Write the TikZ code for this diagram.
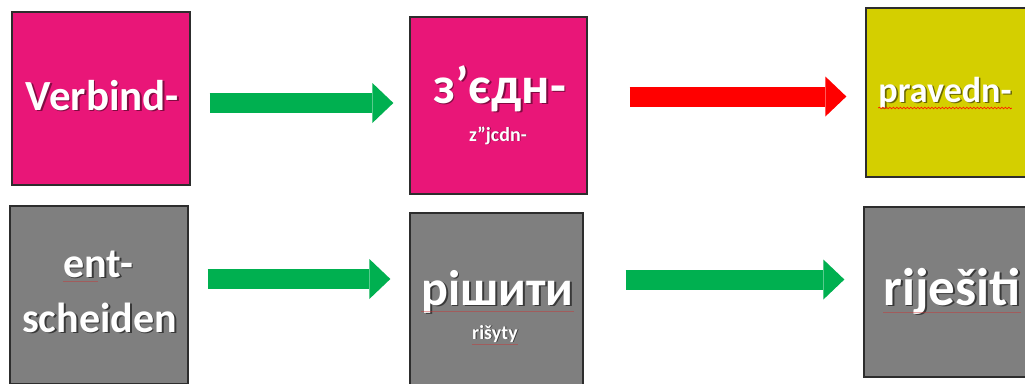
\documentclass[tikz,border=0pt]{standalone}
\usepackage{fontspec}
\setmainfont{Carlito}
\usetikzlibrary{arrows.meta,calc,decorations.pathmorphing}
\definecolor{pinkbox}{RGB}{233,22,120}
\definecolor{graybox}{RGB}{127,127,127}
\definecolor{yellowbox}{RGB}{212,207,0}
\definecolor{greenarrow}{RGB}{0,176,80}
\definecolor{redarrow}{RGB}{255,0,0}
\definecolor{boxline}{RGB}{45,45,45}
\newcommand{\shtxt}[3]{\makebox[0pt][l]{\kern#3\raisebox{-#3}{\color{#1}#2}}#2}
\tikzset{
  boxbase/.style={draw=boxline, line width=1.3pt, inner sep=0pt},
  pbox/.style={boxbase, fill=pinkbox},
  gbox/.style={boxbase, fill=graybox},
  ybox/.style={boxbase, fill=yellowbox},
  lbl/.style={text=white, font=\bfseries, inner sep=0pt, anchor=base},
  blockarrow/.style={line width=20pt, line cap=butt, -{Triangle[width=40pt,length=21pt,line width=0pt]}},
  garrow/.style={blockarrow, draw=greenarrow},
  rarrow/.style={blockarrow, draw=redarrow},
  squig/.style={draw=red!80!orange, line width=0.7pt, decorate, decoration={snake, amplitude=0.8pt, segment length=3.5pt}},
  faintline/.style={draw=red!60!gray, line width=1pt, opacity=0.45}
}
\begin{document}
\begin{tikzpicture}[x=1pt,y=-1pt]
\path[use as bounding box, fill=white] (0,0) rectangle (1025,383);
\clip (0,0) rectangle (1025,383);

% boxes
\node[pbox, minimum width=178pt, minimum height=173pt] (b1) at (101,98.5) {};
\node[pbox, minimum width=177pt, minimum height=177pt] (b2) at (498.5,105.5) {};
\node[ybox, minimum width=172pt, minimum height=169pt] (b3) at (952,92.5) {};
\node[gbox, minimum width=178pt, minimum height=178pt] (b4) at (99,295) {};
\node[gbox, minimum width=173pt, minimum height=173pt] (b5) at (496.5,299.5) {};
\node[gbox, minimum width=172pt, minimum height=170pt] (b6) at (950,292) {};

% labels
\node[lbl, font=\bfseries\fontsize{43}{50}\selectfont] (t1) at (102.5,110) {\shtxt{pinkbox!55!black}{Verbind-}{1.8pt}};
\node[lbl, font=\bfseries\fontsize{52}{60}\selectfont] (t2) at (499.5,103) {\shtxt{pinkbox!55!black}{з’єдн-}{1.8pt}};
\node[lbl, font=\bfseries\fontsize{20}{24}\selectfont] (t2s) at (498,141) {\shtxt{pinkbox!55!black}{z"jcdn-}{0.9pt}};
\node[lbl, font=\bfseries\fontsize{36}{42}\selectfont] (t3) at (945,102) {\shtxt{yellowbox!50!black}{pravedn-}{1.6pt}};
\node[lbl, font=\bfseries\fontsize{42}{50}\selectfont] (t4a) at (98,277) {\shtxt{graybox!45!black}{ent-}{1.8pt}};
\node[lbl, font=\bfseries\fontsize{42}{50}\selectfont] (t4b) at (99.5,332) {\shtxt{graybox!45!black}{scheiden}{1.8pt}};
\node[lbl, font=\bfseries\fontsize{50}{58}\selectfont] (t5) at (497.5,305) {\shtxt{graybox!45!black}{рішити}{1.8pt}};
\node[lbl, font=\bfseries\fontsize{20}{24}\selectfont] (t5s) at (495,339) {\shtxt{graybox!45!black}{rišyty}{0.9pt}};
\node[lbl, font=\bfseries\fontsize{53}{60}\selectfont] (t6) at (952,305) {\shtxt{graybox!45!black}{riješiti}{1.8pt}};

% spell-check marks
\draw[squig] ($(t3.base west)+(0,6)$) -- ($(t3.base east)+(0,6)$);
\draw[faintline] ($(t5.base west)+(0,6)$) -- ($(t5.base east)+(0,6)$);
\draw[faintline] ($(t6.base west)+(0,7)$) -- ($(t6.base east)+(0,7)$);
\draw[faintline] ($(t5s.base west)+(0,5)$) -- ($(t5s.base east)+(0,5)$);
\draw[faintline] ($(t4a.base west)+(0,4)$) -- ($(t4a.base)+(0,4)$);

% arrows
\draw[garrow] ($(b1.east)+(19,4.5)$) -- ($(b2.west)+(-16,-2.5)$);
\draw[rarrow] ($(b2.east)+(42,-9)$) -- ($(b3.west)+(-19,4)$);
\draw[garrow] ($(b4.east)+(19,-16)$) -- ($(b5.west)+(-19,-20.5)$);
\draw[garrow] ($(b5.east)+(42,-20)$) -- ($(b6.west)+(-19,-12.5)$);
\end{tikzpicture}
\end{document}
